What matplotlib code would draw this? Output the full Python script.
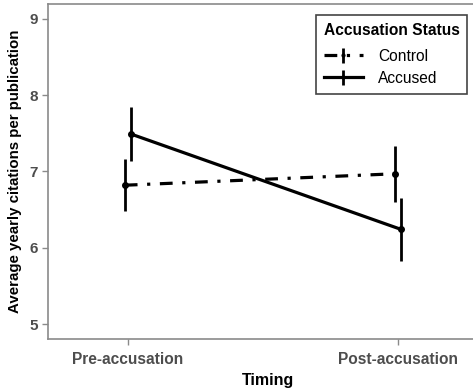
import matplotlib.pyplot as plt

plt.rcParams["font.family"] = ["Liberation Sans", "DejaVu Sans"]

timing = ["Pre-accusation", "Post-accusation"]
groups = ["Control", "Accused"]
means = {
    "Control": [6.82, 6.97],
    "Accused": [7.49, 6.24],
}
lower = {
    "Control": [6.48, 6.60],
    "Accused": [7.14, 5.83],
}
upper = {
    "Control": [7.16, 7.33],
    "Accused": [7.85, 6.65],
}

STYLES = {
    "Control": dict(dashes=(4, 3, 1, 3), offset=-0.012),
    "Accused": dict(dashes=None, offset=0.012),
}

fig = plt.figure(figsize=(4.73, 3.88), dpi=100)
ax = fig.add_axes([48 / 473, 1 - 339 / 388, 440 / 473, 335 / 388])

for g in groups:
    st = STYLES[g]
    xs = [i + 1 + st["offset"] for i in range(len(timing))]
    err_lo = [m - lo for m, lo in zip(means[g], lower[g])]
    err_hi = [hi - m for m, hi in zip(means[g], upper[g])]
    cont = ax.errorbar(
        xs, means[g], yerr=[err_lo, err_hi],
        color="black", linewidth=2.3, elinewidth=2, capsize=0,
        marker="o", markersize=4, label=g,
    )
    if st["dashes"] is not None:
        cont.lines[0].set_dashes(st["dashes"])

ax.set_xlim(1 - 80 / 270, 2 + 90 / 270)
ax.set_ylim(5 - 15 / 76.3, 9 + 15 / 76.3)
ax.set_xticks([1, 2])
ax.set_xticklabels(timing)
ax.set_yticks([5, 6, 7, 8, 9])

for s in ax.spines.values():
    s.set_color("#8a8a8a")
    s.set_linewidth(1.2)
ax.tick_params(colors="#8a8a8a", length=4, width=1, labelcolor="#4d4d4d", labelsize=11)
for lab in ax.get_xticklabels() + ax.get_yticklabels():
    lab.set_fontweight("bold")
ax.tick_params(axis="x", labelsize=11.2, pad=5)

ax.set_xlabel("Timing", fontsize=11.5, fontweight="bold", labelpad=5)
ax.set_ylabel("Average yearly citations per publication", fontsize=10.8, fontweight="bold", labelpad=5)

leg = fig.legend(
    *ax.get_legend_handles_labels(),
    title="Accusation Status", loc="upper left",
    bbox_to_anchor=(316 / 473, 1 - 15 / 388),
    borderaxespad=0,
    fancybox=False, edgecolor="#444444", framealpha=1,
    fontsize=11.2, title_fontproperties={"weight": "bold", "size": 11.2},
    handlelength=2.5, borderpad=0.5, labelspacing=0.45, handletextpad=1.0,
    markerscale=0.5, alignment="left",
)
leg._legend_box.sep = 8
leg.get_frame().set_linewidth(1.2)

fig.savefig("out.png", dpi=100)
